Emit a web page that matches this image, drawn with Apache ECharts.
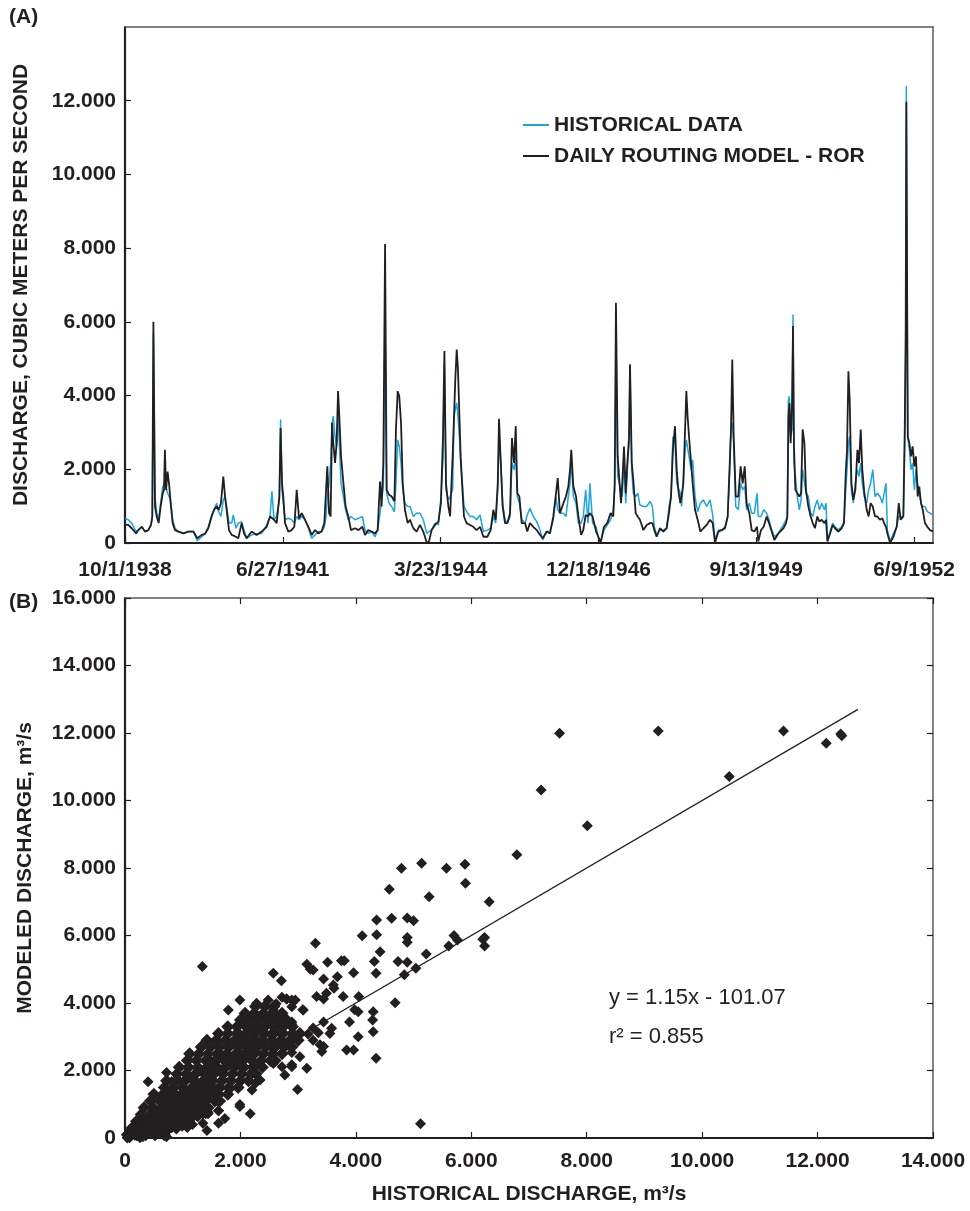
<!DOCTYPE html>
<html>
<head>
<meta charset="utf-8">
<script src="https://cdn.jsdelivr.net/npm/echarts@6/dist/echarts.min.js"></script>
<style>
  html, body { margin: 0; padding: 0; background: #fff; }
  #chart { width: 970px; height: 1211px; }
</style>
</head>
<body>
<div id="chart"></div>
<script>
// Daily discharge, water years 1939-1952 (day 0 = 10/1/1938), m3/s
const START_DATE = Date.UTC(1938, 9, 1);
const days = [
  0,21,42,53,70,84,106,127,148,165,173,180,190,201,213,226,239,247,253,260,
  270,281,289,302,317,338,370,401,433,458,486,507,528,549,564,581,593,608,623,634,
  644,659,676,686,703,718,739,754,771,803,834,866,898,919,931,944,961,978,986,995,
  1003,1014,1035,
  1056,1073,1088,1103,1120,1141,1162,1183,1204,1225,1246,1263,1274,1282,1293,1303,1312,1320,1331,1341,
  1350,1358,1369,1384,1398,1415,1432,1458,1479,1504,1521,1542,1563,1584,1601,1616,1626,1637,1648,1658,
  1673,1690,1707,1717,1728,1738,1749,1760,1774,1791,1806,1827,1848,1869,1890,1912,1926,1943,1964,1986,
  2002,2015,2024,2034,2049,
  2060,2076,2085,2093,2102,2110,2119,2127,2138,2148,2165,2186,2207,2228,2250,2271,2296,2317,2334,2349,
  2362,2370,2381,2393,2408,2423,2440,2452,2465,2476,2486,2499,2514,2535,2549,2566,2587,2609,2630,2647,
  2672,2693,2714,2731,2742,2756,2778,2794,2809,2820,2828,2841,2858,2873,2890,2904,2919,2934,2946,2963,
  2985,2999,3014,3035,3056,3077,3094,3103,3111,3122,3132,
  3143,3151,3162,3173,3183,3194,3200,3211,3221,3236,3249,3263,3285,3306,3327,3342,3354,3369,3390,3411,
  3432,3447,3460,3472,3485,3496,3506,3519,3527,3538,3549,3557,3565,3574,3587,3597,3612,3629,3646,3665,
  3686,3707,3724,3739,3760,3781,3802,3819,3832,3840,3848,3857,3870,3886,3901,3914,3927,3939,3956,3971,
  3988,4005,4013,4030,4047,4066,4081,4098,4115,4140,
  4151,4172,4189,4197,4204,4210,4218,4227,4233,4239,4248,4260,4273,4284,4294,4305,4315,4330,4345,4358,
  4372,4387,4400,4415,4432,4442,4451,4468,4484,4499,4520,4541,4556,4567,4575,4584,4592,4603,4615,4628,
  4641,4651,4662,4672,4685,4700,4712,4725,4738,4753,4767,4784,4799,4810,4822,4831,4848,4869,4890,4903,
  4915,4932,4941,4947,4951,4960,4970,4981,4991,5002,5012,5023,5033,5044,5055,5069,5084,5101,5118
];
const histQ = [
  670,630,540,580,310,350,440,310,350,490,720,5700,1260,810,630,1080,1530,1530,1620,1530,
  1350,1350,1170,630,400,310,260,310,310,60,170,250,440,760,900,1080,850,720,1170,1260,
  990,540,540,760,400,540,580,350,130,220,250,260,490,720,1400,630,720,1170,3350,1440,
  1080,630,670,
  630,540,720,630,720,630,400,130,220,310,310,440,720,1260,1620,2170,3260,3440,2890,2620,
  3440,2710,1620,1260,900,630,720,630,670,720,350,260,310,170,350,810,1170,1530,5890,1350,
  1080,990,850,1620,2800,2620,2170,1440,1080,990,990,720,810,810,630,260,310,350,540,490,
  1260,2260,4890,1440,1170,
  1260,1440,3440,3620,3800,3440,2890,2170,1620,990,850,720,720,630,760,310,350,400,720,540,
  1440,2890,2260,1080,630,540,720,2170,1990,2350,1260,1080,630,540,760,940,720,580,350,80,
  310,310,630,1260,900,810,810,720,1260,1620,2260,1260,1080,540,540,720,1440,540,1620,540,
  440,170,40,350,490,630,900,1440,4890,1810,1620,
  1350,1260,2260,1080,1990,2710,4840,1990,1350,1260,1350,1030,990,990,1130,990,440,220,350,350,
  400,990,1260,2890,2710,1620,1620,1350,990,990,2530,2800,2800,2350,1990,2260,1260,850,1080,1170,
  990,1170,760,80,350,350,440,720,1990,3170,3260,2710,990,900,1620,1440,1530,900,1080,810,
  810,1350,720,720,900,810,630,350,170,260,
  350,490,630,720,3890,3980,2890,3080,6200,2170,1810,1260,900,1170,1990,1990,1350,1260,810,720,
  990,1170,900,1080,900,1080,80,310,540,440,350,440,580,1440,1990,2710,2890,1440,1080,1620,
  1990,1810,2170,1620,1260,1080,1440,1620,1990,1260,1350,1260,1080,1080,1620,350,40,260,440,720,
  720,720,2710,4890,12400,2890,2530,1990,2170,1440,1990,1620,1350,1080,990,990,850,810,760
];
const modelQ = [
  490,490,400,440,260,350,440,310,350,490,720,6000,990,720,540,990,1350,1440,2530,1440,
  1940,1530,1080,540,350,310,260,310,310,130,220,250,400,720,900,990,900,1080,1800,1260,
  900,350,220,260,170,130,540,260,130,310,220,310,440,720,720,630,540,1260,3120,1620,
  1260,540,310,
  350,440,1440,670,810,630,440,220,350,260,310,540,1440,2080,810,720,3260,2710,2170,2710,
  4120,3440,2350,1620,990,720,350,400,350,440,220,350,310,260,350,1670,990,2170,8110,1440,
  1310,1260,1130,3080,4120,3980,3260,1620,900,540,630,400,310,490,310,5,40,350,490,580,
  1080,2890,5210,1620,990,
  720,2350,3440,4440,5250,4710,3440,2350,1440,720,540,490,440,350,440,170,170,350,900,630,
  1620,3370,2170,990,540,540,810,2850,2170,3170,1350,1260,540,540,310,540,440,350,220,130,
  310,260,720,1350,1760,810,1080,1260,1530,1990,2530,1530,1260,720,220,350,760,720,810,720,
  310,170,5,440,540,810,720,1620,6520,2350,2390,
  1080,1620,2620,1350,2170,2890,4840,2170,1710,810,720,630,350,490,540,540,350,170,400,310,
  400,810,1260,2530,3170,1990,1440,1080,1260,1620,3080,4120,3440,2890,2170,1620,900,630,310,400,
  490,630,540,5,310,350,400,720,2170,3080,4980,2890,1260,1260,2080,1620,2080,1080,810,350,
  310,440,40,350,440,720,540,310,80,260,
  310,400,540,720,3440,3800,2710,3800,5890,2620,1440,1350,1260,1350,3080,2710,1440,990,720,540,
  400,720,580,630,540,630,40,260,490,400,310,400,540,1900,2490,4660,3890,1620,1170,1440,
  2530,2170,3080,1990,1350,900,720,1080,990,720,720,630,670,540,440,260,5,170,440,1080,
  630,720,3080,5800,11970,2890,2710,2350,2620,2080,2350,1260,1530,1080,900,540,440,350,310
];

// Further daily pairs (historical, modeled) from high-flow days, m3/s
const extraHist = [
  4790,5140,5570,5900,6310,4580,5270,4360,4620,5000,4110,4360,4890,5760,5610,6230,6230,5220,3300,1340,
  2570,3150,3210,3510,3750,3960,4320,4420,4730,5040,4350,4680,4040,4300,4290,4300,4040,3840,3960,4350,
  3150,2990,2770,3410,3580,3780,4050,3090,1990,1730,1420,5120,400,720,1990,1790,2480,2720,2950,2570,
  2280,3320,3490,3680,3610,2890,3260,3030,2570,2340,2200,2720,2890,3550,3380,7530,9240,11410,12150,12420,
  10470,8010,7210,6790
];
const extraModel = [
  7990,8140,7990,7550,7000,7370,7150,6460,6510,6440,5990,6020,5940,5870,5690,5940,5690,5450,5770,5080,
  4880,5150,5000,5210,5250,4900,5230,5520,5230,5030,4880,4010,3740,3740,3500,3150,3000,2610,2610,2360,
  2070,1440,1870,2560,3250,4190,4190,3790,930,580,220,420,1670,1940,4090,3790,4090,4170,4090,3790,
  3990,4190,4290,4780,4530,4090,2900,2410,2210,1720,1420,2110,2110,3100,2760,11990,12060,12060,11700,11920,
  10710,9250,10310,8390
];

// Dense low-flow cloud: for each modeled level, the historical values of the days at that level, m3/s
const cloudModel = [100,300,500,700,900,1100,1300,1500,1700,1900,2100,2300,2500,2700,2900,3100,3300,3500,3700,3900];
const cloudHist = [
  [40,200,360,520,680],
  [120,280,440,600,760,890],
  [200,360,520,680,840,1000,1090],
  [280,440,600,760,920,1080,1240],
  [330,490,650,810,970,1130,1290,1440],
  [440,600,760,920,1080,1240,1400,1560,1640],
  [500,660,820,980,1140,1300,1460,1620,1780],
  [680,840,1000,1160,1320,1480,1640,1800,1960],
  [720,880,1040,1200,1360,1520,1680,1840,2000,2140],
  [900,1060,1220,1380,1540,1700,1860,2020,2180,2270],
  [940,1100,1260,1420,1580,1740,1900,2060,2220,2380],
  [1080,1240,1400,1560,1720,1880,2040,2200,2360,2520,2600],
  [1120,1280,1440,1600,1760,1920,2080,2240,2400,2560,2720],
  [1320,1480,1640,1800,1960,2120,2280,2440,2600,2760,2890],
  [1420,1580,1740,1900,2060,2220,2380,2540,2700,2860,3000],
  [1620,1780,1940,2100,2260,2420,2580,2740,2900,3030],
  [1780,1940,2100,2260,2420,2580,2740,2900],
  [2000,2160,2320,2480,2640,2800],
  [2080,2240,2400,2560,2720],
  [2260,2420,2580]
];

// Reference line across the scatter
const lineX = [0, 12700];
const lineY = [0, 12700];

const equationText = 'y = 1.15x - 101.07';
const r2Text = 'r\u00B2 = 0.855';

const INK = '#231f20';
const BLUE = '#1ea5de';
const FONT = '"Liberation Sans", Arial, Helvetica, sans-serif';

function thousands(v) {
  return String(Math.round(v)).replace(/\B(?=(\d{3})+(?!\d))/g, '.');
}
function dayLabel(v) {
  const d = new Date(START_DATE + v * 86400000);
  return (d.getUTCMonth() + 1) + '/' + d.getUTCDate() + '/' + d.getUTCFullYear();
}

const labelStyle = { color: INK, fontFamily: FONT, fontWeight: 'bold', fontSize: 21 };
const mainLine = { show: true, onZero: false, lineStyle: { color: INK, width: 2.2 } };
const frameLine = { show: true, onZero: false, lineStyle: { color: '#5a5a5a', width: 1.5 } };
const inTick = { show: true, inside: true, length: 6, lineStyle: { color: INK, width: 1.2 } };

const histSeries = days.map((d, i) => [d, histQ[i]]);
const modelSeries = days.map((d, i) => [d, modelQ[i]]);
const cloudPts = [];
cloudModel.forEach((m, r) => cloudHist[r].forEach(h => cloudPts.push([h, m])));
const dailyPts = histQ.map((h, i) => [h, modelQ[i]])
  .concat(extraHist.map((h, i) => [h, extraModel[i]]));

const chart = echarts.init(document.getElementById('chart'), null, { renderer: 'canvas' });

const legendText = { color: INK, fontFamily: FONT, fontWeight: 'bold', fontSize: 21, lineHeight: 24 };

chart.setOption({
  backgroundColor: '#ffffff',
  animation: false,
  textStyle: { fontFamily: FONT, color: INK },
  grid: [
    { left: 125, right: 37, top: 27, bottom: 668 },
    { left: 125, right: 37, top: 598, bottom: 73 }
  ],
  legend: [
    {
      data: ['HISTORICAL DATA'], left: 523, top: 113, padding: 0, orient: 'vertical',
      icon: 'rect', itemWidth: 26, itemHeight: 2, textStyle: legendText
    },
    {
      data: ['DAILY ROUTING MODEL - ROR'], left: 523, top: 144, padding: 0, orient: 'vertical',
      icon: 'rect', itemWidth: 26, itemHeight: 2, textStyle: legendText
    }
  ],
  xAxis: [
    {
      type: 'value', gridIndex: 0, min: 0, max: 5120, interval: 1000,
      axisLine: mainLine, axisTick: inTick, splitLine: { show: false },
      axisLabel: Object.assign({ margin: 17, formatter: dayLabel, showMaxLabel: false }, labelStyle)
    },
    {
      type: 'value', gridIndex: 0, min: 0, max: 5120, position: 'top',
      axisLine: frameLine, axisTick: { show: false }, axisLabel: { show: false }, splitLine: { show: false }
    },
    {
      type: 'value', gridIndex: 1, min: 0, max: 14000, interval: 2000,
      axisLine: mainLine, axisTick: inTick, splitLine: { show: false },
      axisLabel: Object.assign({ margin: 13, formatter: thousands }, labelStyle),
      name: 'HISTORICAL DISCHARGE, m\u00B3/s', nameLocation: 'middle', nameGap: 46,
      nameTextStyle: labelStyle
    },
    {
      type: 'value', gridIndex: 1, min: 0, max: 14000, interval: 2000, position: 'top',
      axisLine: frameLine, axisTick: inTick, axisLabel: { show: false }, splitLine: { show: false }
    }
  ],
  yAxis: [
    {
      type: 'value', gridIndex: 0, min: 0, max: 14000, interval: 2000,
      axisLine: mainLine, axisTick: inTick, splitLine: { show: false },
      axisLabel: Object.assign({ margin: 9, formatter: thousands, showMaxLabel: false }, labelStyle),
      name: 'DISCHARGE, CUBIC METERS PER SECOND', nameLocation: 'middle', nameGap: 93,
      nameTextStyle: labelStyle
    },
    {
      type: 'value', gridIndex: 0, min: 0, max: 14000, position: 'right',
      axisLine: frameLine, axisTick: { show: false }, axisLabel: { show: false }, splitLine: { show: false }
    },
    {
      type: 'value', gridIndex: 1, min: 0, max: 16000, interval: 2000,
      axisLine: mainLine, axisTick: inTick, splitLine: { show: false },
      axisLabel: Object.assign({ margin: 9, formatter: thousands }, labelStyle),
      name: 'MODELED DISCHARGE, m\u00B3/s', nameLocation: 'middle', nameGap: 89,
      nameTextStyle: labelStyle
    },
    {
      type: 'value', gridIndex: 1, min: 0, max: 16000, interval: 2000, position: 'right',
      axisLine: frameLine, axisTick: inTick, axisLabel: { show: false }, splitLine: { show: false }
    }
  ],
  series: [
    {
      name: 'HISTORICAL DATA', type: 'line', xAxisIndex: 0, yAxisIndex: 0,
      data: histSeries, showSymbol: false, symbol: 'none',
      lineStyle: { color: BLUE, width: 1.5 }, itemStyle: { color: BLUE }, z: 2
    },
    {
      name: 'DAILY ROUTING MODEL - ROR', type: 'line', xAxisIndex: 0, yAxisIndex: 0,
      data: modelSeries, showSymbol: false, symbol: 'none',
      lineStyle: { color: INK, width: 1.8 }, itemStyle: { color: INK }, z: 3
    },
    {
      name: 'cloud', type: 'scatter', xAxisIndex: 2, yAxisIndex: 2,
      data: cloudPts, symbol: 'diamond', symbolSize: 13,
      itemStyle: { color: INK, opacity: 1 }, z: 2
    },
    {
      name: 'pairs', type: 'scatter', xAxisIndex: 2, yAxisIndex: 2,
      data: dailyPts, symbol: 'diamond', symbolSize: 11,
      itemStyle: { color: INK, opacity: 1 }, z: 2
    },
    {
      name: 'line', type: 'line', xAxisIndex: 2, yAxisIndex: 2,
      data: lineX.map((x, i) => [x, lineY[i]]), showSymbol: false, symbol: 'none',
      lineStyle: { color: INK, width: 1.2 }, z: 4
    }
  ],
  graphic: [
    { type: 'text', left: 9, top: 7, style: { text: '(A)', fill: INK, font: 'bold 21px ' + FONT } },
    { type: 'text', left: 9, top: 592, style: { text: '(B)', fill: INK, font: 'bold 21px ' + FONT } },
    { type: 'text', left: 609, top: 987, style: { text: equationText, fill: INK, font: '22px ' + FONT } },
    { type: 'text', left: 609, top: 1026, style: { text: r2Text, fill: INK, font: '22px ' + FONT } }
  ]
});
</script>
</body>
</html>
